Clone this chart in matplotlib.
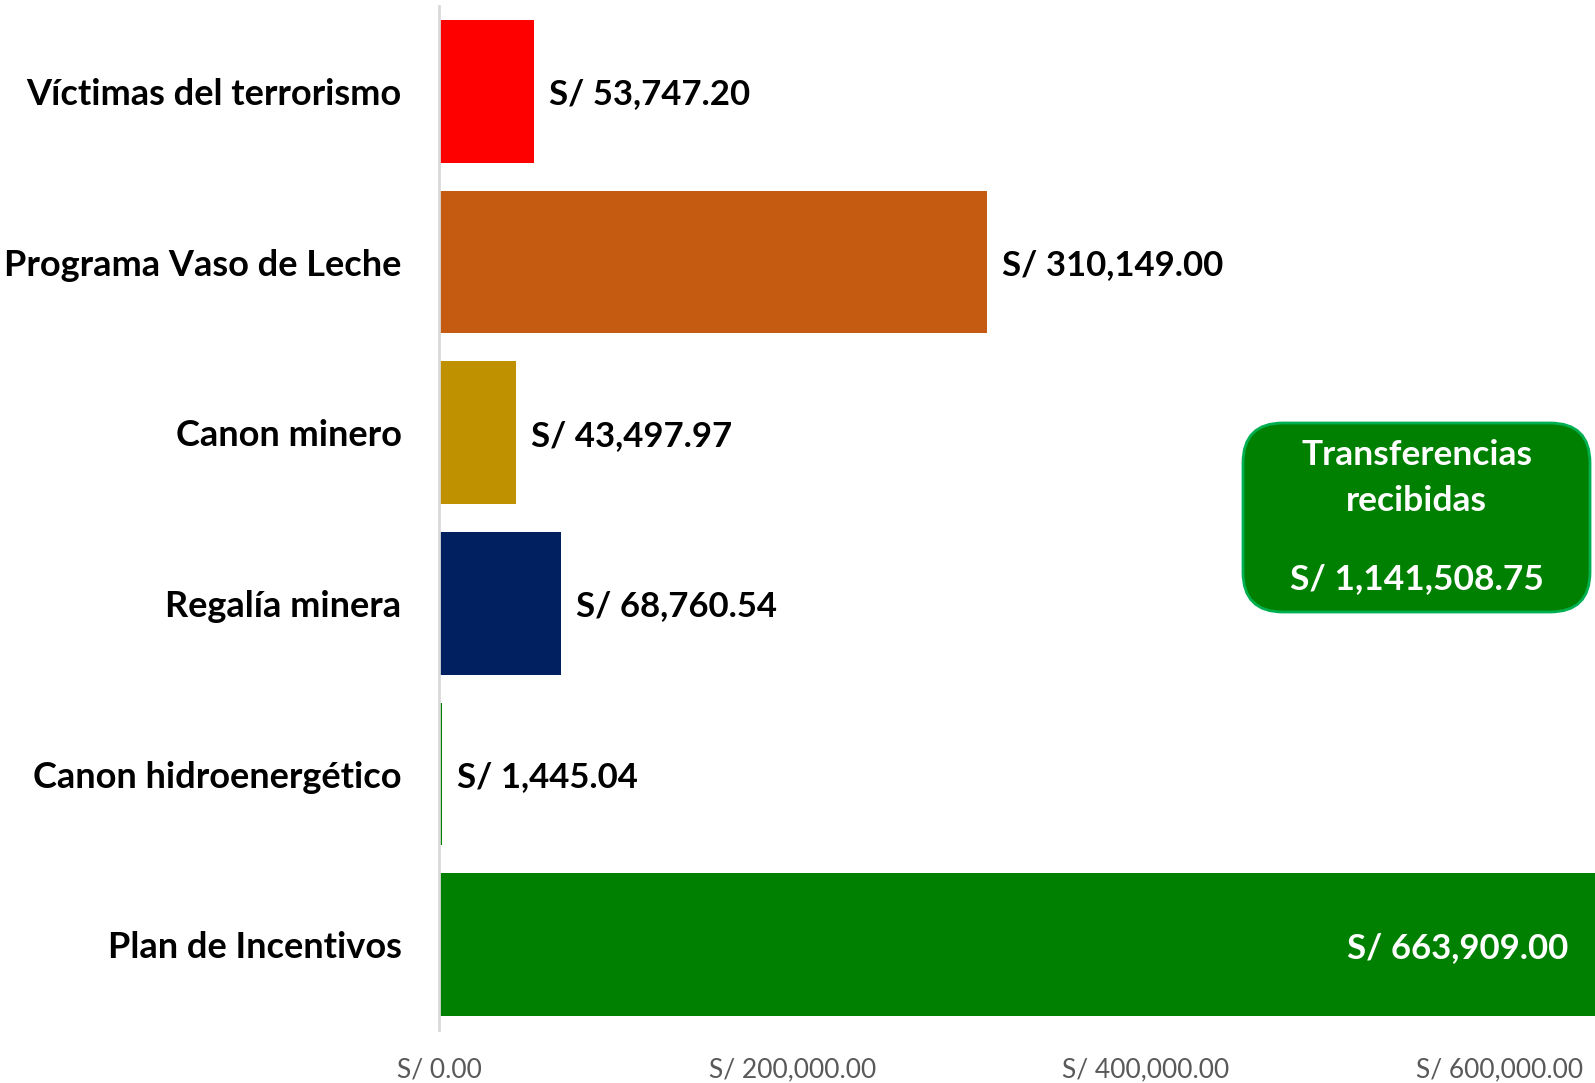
import matplotlib
matplotlib.use("Agg")
import matplotlib.pyplot as plt
from matplotlib.patches import FancyBboxPatch

categories = ["Víctimas del terrorismo", "Programa Vaso de Leche", "Canon minero",
              "Regalía minera", "Canon hidroenergético", "Plan de Incentivos"]
values = [53747.20, 310149.00, 43497.97, 68760.54, 1445.04, 663909.00]
colors = ["#FF0000", "#C55A11", "#BF9000", "#002060", "#008000", "#008000"]
xticks = [0, 200000, 400000, 600000]
box_lines = ["Transferencias", "recibidas"]
total = sum(values)

plt.rcParams['font.family'] = ['Lato', 'DejaVu Sans']

fig = plt.figure(figsize=(15.95, 10.83), dpi=100)
ax = fig.add_axes([439/1595, 1 - 1030/1083, 1 - 439/1595, (1030 - 6)/1083])

ypos = list(range(len(categories)))
ax.barh(ypos, values, height=0.835, color=colors, zorder=2)
ax.set_ylim(len(categories) - 0.5, -0.5)
ax.set_xlim(0, 654000)

ax.set_yticks(ypos)
ax.set_yticklabels(categories, fontsize=26, fontweight='bold', color='black')
ax.tick_params(axis='y', length=0, pad=27)
ax.set_xticks(xticks)
ax.set_xticklabels([f"S/ {v:,.2f}" for v in xticks], fontsize=19, color='#595959')
ax.tick_params(axis='x', length=0, pad=20)

for s in ['top', 'right', 'bottom']:
    ax.spines[s].set_visible(False)
ax.spines['left'].set_color('#D9D9D9')
ax.spines['left'].set_linewidth(2)
ax.spines['left'].set_zorder(3)

xmax = ax.get_xlim()[1]
for y, v in zip(ypos, values):
    label = f"S/ {v:,.2f}"
    if v > xmax:
        ax.annotate(label, xy=(xmax, y), xytext=(-27, -3), textcoords='offset pixels',
                    ha='right', va='center', fontsize=25, fontweight='bold', color='white',
                    zorder=4)
    else:
        ax.annotate(label, xy=(v, y), xytext=(15, -3), textcoords='offset pixels',
                    ha='left', va='center', fontsize=25, fontweight='bold', color='black',
                    zorder=4)

# summary box (figure pixel coords)
bx0, by0, bx1, by1 = 1243, 423, 1590, 612
box = FancyBboxPatch((bx0/1595, 1 - by1/1083), (bx1 - bx0)/1595, (by1 - by0)/1083,
                     boxstyle="round,pad=0,rounding_size=0.025",
                     transform=fig.transFigure, facecolor='#008000',
                     edgecolor='#00B050', linewidth=2, zorder=5,
                     mutation_aspect=1595/1083)
fig.patches.append(box)
cx = (bx0 + bx1) / 2 / 1595
for txt, yp in zip(box_lines + [f"S/ {total:,.2f}"], [455, 501, 579]):
    fig.text(cx, 1 - yp/1083, txt, ha='center', va='center', fontsize=25.5,
             fontweight='bold', color='white', zorder=6)

fig.savefig("out.png", dpi=100, facecolor='white')
